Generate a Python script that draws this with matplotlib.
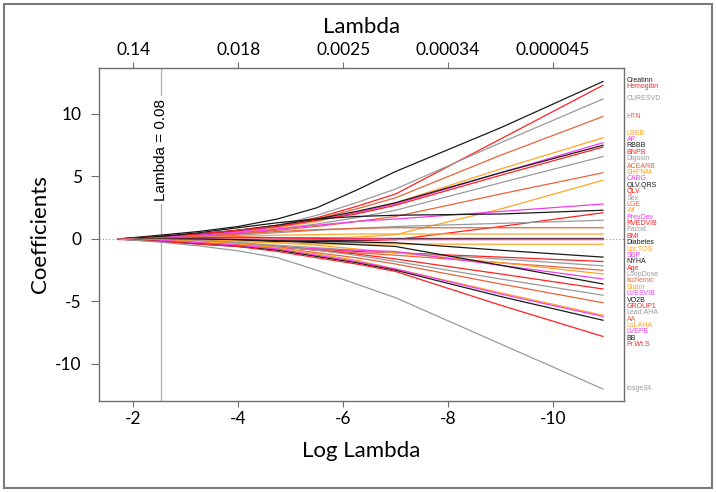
import numpy as np
import matplotlib
matplotlib.use("Agg")
import matplotlib.pyplot as plt
from matplotlib.patches import Rectangle

plt.rcParams["axes.unicode_minus"] = False

log_lambda = [-1.71, -2.5, -3.25, -4.0, -4.75, -5.5, -6.25, -7.0, -9.0, -10.95]

BLACK = "#1a1a1a"
RED = "#ff2020"
GRAY = "#9a9a9a"
ORED = "#e8643a"
ORANGE = "#ffa526"
MAGENTA = "#f03cf0"

variables = ["Creatinn", "Hemogibn", "CURESVD", "HTN", "LBBB", "AF", "RBBB", "BNPB",
             "Digoxin", "ACEARB", "SHFNM", "CABG", "QLV.QRS", "QLV", "Sex", "LGE",
             "Wt", "PrevDev", "RVEDVIB", "Pacod", "BMI", "Diabetes", "Lbt.TOS", "SBP",
             "NYHA", "Age", "LoopDose", "Ischemic", "Statin", "LVESVIB", "VO2B",
             "GROUP1", "Lead.AHA", "AA", "Lst.AHA", "LVEFB", "BB", "Fr.Wt.S", "tosge34"]

colors = [BLACK, RED, GRAY, ORED, ORANGE, MAGENTA, BLACK, RED,
          GRAY, ORED, ORANGE, MAGENTA, BLACK, RED, GRAY, ORED,
          ORANGE, MAGENTA, RED, GRAY, RED, BLACK, ORANGE, MAGENTA,
          BLACK, RED, GRAY, ORED, ORANGE, MAGENTA, BLACK,
          RED, GRAY, ORED, ORANGE, MAGENTA, BLACK, RED, GRAY]

coefs = [
    [0, 0.3, 0.6, 1.0, 1.6, 2.5, 3.9, 5.4, 8.9, 12.6],
    [0, 0.2, 0.4, 0.7, 1.1, 1.7, 2.6, 3.6, 8.0, 12.3],
    [0, 0.1, 0.3, 0.6, 1.1, 1.9, 2.9, 4.0, 7.7, 11.2],
    [0, 0.1, 0.3, 0.6, 1.0, 1.6, 2.4, 3.3, 6.7, 9.8],
    [0, 0.1, 0.2, 0.5, 0.9, 1.4, 2.1, 2.9, 5.6, 8.1],
    [0, 0.1, 0.3, 0.6, 1.0, 1.5, 2.1, 2.8, 5.3, 7.7],
    [0, 0.2, 0.4, 0.7, 1.1, 1.6, 2.2, 2.9, 5.3, 7.5],
    [0, 0.2, 0.4, 0.7, 1.0, 1.5, 2.0, 2.7, 5.1, 7.35],
    [0, 0.1, 0.2, 0.4, 0.8, 1.2, 1.7, 2.3, 4.5, 6.6],
    [0, 0.1, 0.2, 0.4, 0.7, 1.0, 1.4, 1.8, 3.6, 5.3],
    [0, 0, 0, 0, 0, 0.05, 0.15, 0.35, 2.4, 4.7],
    [0, 0.1, 0.3, 0.5, 0.8, 1.1, 1.4, 1.6, 2.2, 2.8],
    [0, 0.2, 0.5, 0.9, 1.3, 1.6, 1.8, 1.9, 2.0, 2.3],
    [0, 0, 0, -0.1, -0.2, -0.2, -0.15, -0.05, 1.0, 2.1],
    [0, 0.05, 0.15, 0.3, 0.5, 0.7, 0.85, 1.0, 1.25, 1.5],
    [0, 0.05, 0.2, 0.4, 0.6, 0.75, 0.85, 0.9, 0.9, 0.9],
    [0, 0, 0.1, 0.2, 0.3, 0.35, 0.4, 0.4, 0.4, 0.4],
    [0, 0, 0.05, 0.1, 0.1, 0.1, 0.05, 0.05, 0.05, 0.05],
    [0, 0.05, 0.1, 0.15, 0.1, 0.05, 0, 0, 0, 0],
    [0, 0, -0.05, -0.1, -0.15, -0.1, -0.05, 0, 0, 0],
    [0, 0, 0, 0, 0, 0, 0, 0, 0, 0],
    [0, -0.05, -0.1, -0.2, -0.2, -0.15, -0.1, 0, 0, 0],
    [0, -0.05, -0.1, -0.2, -0.3, -0.4, -0.4, -0.4, -0.42, -0.42],
    [0, 0, 0, 0, 0, 0, 0, 0, 0, 0],
    [0, 0, -0.05, -0.1, -0.15, -0.2, -0.25, -0.3, -0.9, -1.45],
    [0, -0.1, -0.2, -0.4, -0.6, -0.8, -1.0, -1.1, -1.45, -1.8],
    [0, -0.05, -0.15, -0.3, -0.5, -0.7, -0.9, -1.1, -1.6, -2.15],
    [0, -0.1, -0.2, -0.4, -0.6, -0.9, -1.1, -1.3, -1.9, -2.5],
    [0, 0, -0.05, -0.15, -0.3, -0.5, -0.8, -1.1, -1.9, -2.8],
    [0, -0.1, -0.3, -0.5, -0.7, -0.8, -0.9, -1.0, -2.1, -3.2],
    [0, 0, 0, -0.05, -0.15, -0.3, -0.45, -0.6, -2.1, -3.6],
    [0, -0.1, -0.2, -0.4, -0.6, -0.9, -1.2, -1.6, -2.8, -4.0],
    [0, -0.05, -0.15, -0.3, -0.6, -0.9, -1.3, -1.8, -3.2, -4.5],
    [0, -0.1, -0.2, -0.4, -0.7, -1.1, -1.5, -2.0, -3.6, -5.1],
    [0, -0.1, -0.2, -0.4, -0.7, -1.2, -1.7, -2.4, -4.3, -6.1],
    [0, -0.1, -0.3, -0.5, -0.8, -1.3, -1.8, -2.4, -4.4, -6.2],
    [0, -0.2, -0.4, -0.6, -0.9, -1.4, -1.9, -2.5, -4.6, -6.5],
    [0, -0.2, -0.4, -0.6, -1.0, -1.5, -2.0, -2.6, -5.3, -7.8],
    [0, -0.25, -0.55, -0.95, -1.5, -2.5, -3.6, -4.7, -8.4, -12.0],
]

best_lambda = 0.08
bottom_ticks = [-2, -4, -6, -8, -10]
top_labels = ["0.14", "0.018", "0.0025", "0.00034", "0.000045"]

LABEL_FONT = ["Lato", "DejaVu Sans"]

fig = plt.figure(figsize=(7.16, 4.92), dpi=100)
ax = fig.add_axes([0.1383, 0.185, 0.7332, 0.6768])

ax.axhline(0, color="#9a9a9a", ls=(0, (1, 2)), lw=0.8, zorder=0)
ax.axvline(np.log(best_lambda), color="#b5b5b5", lw=1.0, zorder=1)

for vals, c in zip(coefs, colors):
    ax.plot(log_lambda, vals, color=c, lw=0.9, zorder=2)

ax.text(np.log(best_lambda), 7.1, "Lambda = 0.08", rotation=90, ha="center", va="center",
        fontsize=11, family="Liberation Sans", zorder=3,
        bbox=dict(facecolor="white", edgecolor="none", pad=2))

ax.set_xlim(-1.35, -11.35)
ax.set_ylim(-12.96, 13.68)

for side in ax.spines.values():
    side.set_color("#6e6e6e")
    side.set_linewidth(1.0)

ax.set_xticks(bottom_ticks)
ax.set_xticklabels([str(t) for t in bottom_ticks])
ax.set_yticks([-10, -5, 0, 5, 10])
ax.tick_params(axis="x", direction="out", length=4, width=0.8, color="#6e6e6e",
               labelsize=12.5, pad=3)
ax.tick_params(axis="y", direction="out", length=5.5, width=0.8, color="#6e6e6e",
               labelsize=12.5, pad=7)
for lab in ax.get_xticklabels() + ax.get_yticklabels():
    lab.set_family(LABEL_FONT)

ax.set_xlabel("Log Lambda", fontsize=16, family=LABEL_FONT, labelpad=10)
ax.set_ylabel("Coefficients", fontsize=16, family=LABEL_FONT, labelpad=4)

top = ax.twiny()
top.set_xlim(ax.get_xlim())
top.set_xticks(bottom_ticks)
top.set_xticklabels(top_labels)
top.tick_params(direction="out", length=4, width=0.8, color="#6e6e6e",
                labelsize=12.5, pad=3)
for lab in top.get_xticklabels():
    lab.set_family(LABEL_FONT)
top.set_xlabel("Lambda", fontsize=16, family=LABEL_FONT, labelpad=7)
for side in top.spines.values():
    side.set_visible(False)

# spread the right-hand variable labels so they do not overlap
ends = np.array([v[-1] for v in coefs], dtype=float)
label_y = ends.copy()
gap = 0.51
for _ in range(2000):
    for i in range(len(label_y) - 1):
        d = label_y[i] - label_y[i + 1]
        if d < gap:
            s = (gap - d) / 2
            label_y[i] += s
            label_y[i + 1] -= s

trans = ax.get_yaxis_transform()
for name, c, y in zip(variables, colors, label_y):
    ax.text(1.005, y, name, transform=trans, color=c, fontsize=5,
            family="Liberation Sans", ha="left", va="center", clip_on=False)

# outer frame round the whole picture
fig.patches.append(Rectangle((4 / 716, 4 / 492), 708 / 716, 484 / 492,
                             transform=fig.transFigure, fill=False,
                             edgecolor="#7a7a7a", lw=1.5))

fig.savefig("out.png", dpi=100)
